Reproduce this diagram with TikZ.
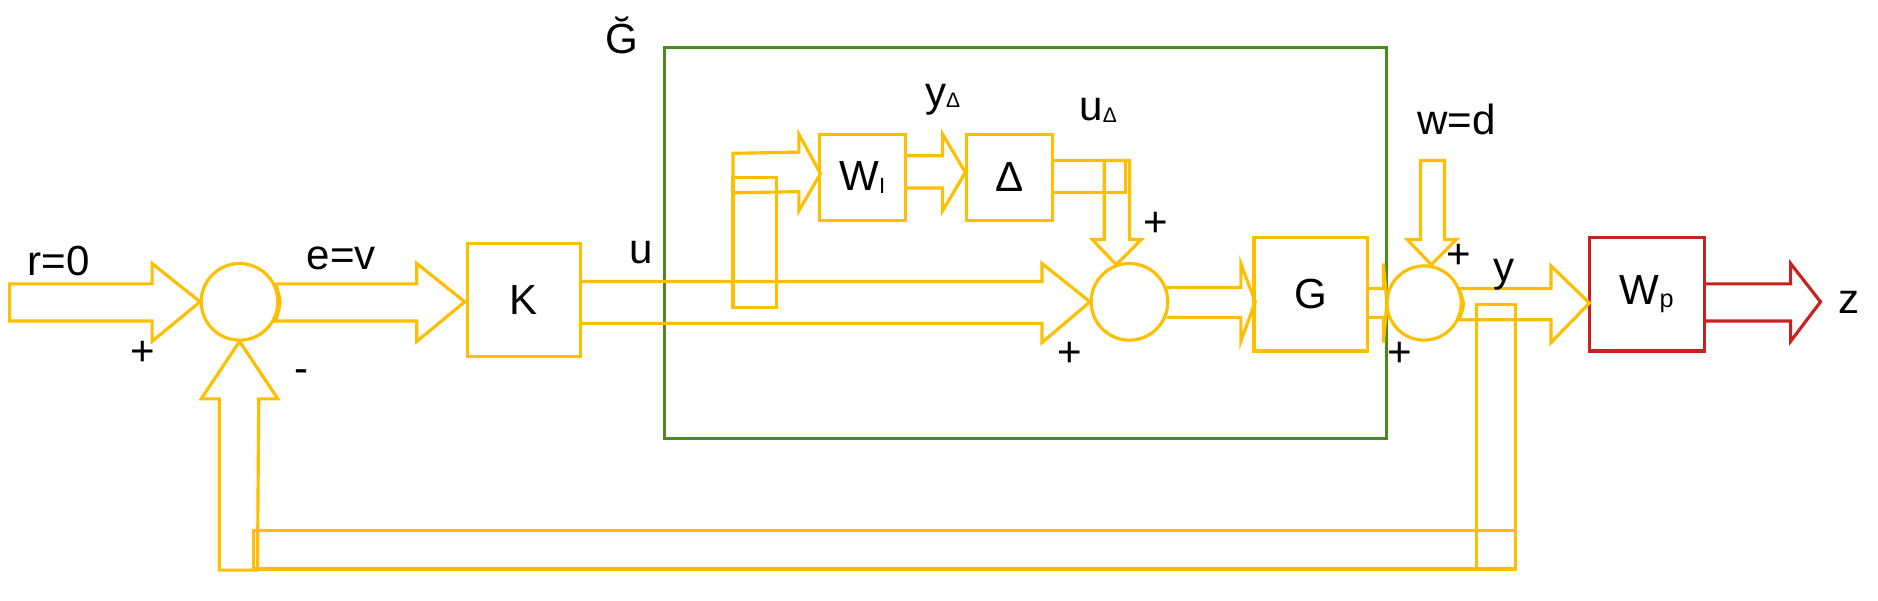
\documentclass[tikz,border=0pt]{standalone}
\usepackage{fontspec}
\setmainfont{Liberation Sans}
\usepackage{xcolor}
\definecolor{BlockGold}{RGB}{255, 191, 0}
\definecolor{FrameGreen}{RGB}{72, 140, 28}
\definecolor{WeightRed}{RGB}{201, 33, 30}
\usepackage{tikz}
\usetikzlibrary{positioning, calc}

\begin{document}
\begin{tikzpicture}[
        x=0.02cm, y=-0.02cm,
        font=\fontsize{20}{24}\selectfont,
        blk/.style={draw=BlockGold, line width=1.5pt, line join=miter},
        bigbox/.style={blk, minimum width=1.9cm, minimum height=1.9cm, inner sep=0pt},
        smallbox/.style={blk, minimum width=1.44cm, minimum height=1.44cm, inner sep=0pt},
        sumnode/.style={blk, circle, minimum size=1.28cm, inner sep=0pt},
        redblk/.style={draw=WeightRed, line width=1.5pt, line join=miter},
        frame/.style={draw=FrameGreen, line width=1.4pt, inner sep=0pt,
                    minimum width=12.06cm, minimum height=6.52cm},
        lbl/.style={inner sep=0pt, anchor=base},
        sgn/.style={inner sep=0pt}
    ]
        \useasboundingbox (0,0) rectangle (1568,501);

        % blocks
        \node[frame] (Gt) at (856.5,203) {};
        \node[bigbox] (K) at (437.5,250.5) {K};
        \node[smallbox] (WI) at (720,148) {W\raisebox{-1.6pt}{\fontsize{10.5}{11}\selectfont I}};
        \node[smallbox] (Dl) at (843,148) {Δ};
        \node[bigbox] (G) at (1094.5,245.5) {G};
        \node[redblk, minimum width=1.92cm, minimum height=1.9cm, inner sep=0pt] (Wp)
            at (1375,245.5) {W\raisebox{-1.6pt}{\fontsize{12}{12}\selectfont p}};
        \node[sumnode] (s1) at (200,252) {};
        \node[sumnode] (s2) at (943,252) {};
        \node[sumnode, minimum size=1.24cm] (s3) at (1189,253) {};

        % block arrows
        \draw[blk] (8,237) -- (127,237) -- (127,220) -- (167,252) -- (127,285) -- (127,268) -- (8,268) -- cycle;
        \draw[blk] (230,237) -- (348,237) -- (348,220) -- (388,252) -- (348,285) -- (348,268) -- (230,268)
            .. controls (235,252) .. (230,237);
        \draw[blk] (485,235) -- (870,235) -- (870,220) -- (910,252) -- (870,286) -- (870,270) -- (485,270);
        \draw[blk] (612,148) rectangle (648,257);
        \draw[blk] (612,128) -- (667,127) -- (667,112) -- (685,145) -- (667,176) -- (667,160) -- (612,161) -- cycle;
        \draw[blk] (756,130) -- (787,130) -- (787,112) -- (806,144) -- (787,176) -- (787,157) -- (756,157);
        \draw[blk] (879,134) rectangle (940,161);
        \draw[blk] (922,134) -- (922,200) -- (912,200) -- (932,221) -- (953,200) -- (943,200) -- (943,134) -- cycle;
        \draw[blk] (974,240) -- (1036,240) -- (1036,220) -- (1048,252) -- (1036,285) -- (1036,265) -- (974,265);
        \draw[blk] (1142,241) -- (1155,241) -- (1155,220) -- (1158,253) -- (1155,286) -- (1155,265) -- (1142,265);
        \draw[blk] (1186,134) -- (1186,200) -- (1175,200) -- (1195,221) -- (1216,200) -- (1206,200) -- (1206,134) -- cycle;
        \draw[blk] (1218,241) -- (1295,241) -- (1295,222) -- (1327,253) -- (1295,286) -- (1295,267) -- (1218,267)
            .. controls (1223,254) .. (1218,241);
        \draw[redblk] (1423,237) -- (1495,237) -- (1495,220) -- (1520,252) -- (1495,285) -- (1495,268) -- (1423,268);

        % feedback
        \draw[blk] (1233,254) rectangle (1265,475);
        \draw[blk] (212,443) rectangle (1265,475);
        \draw[blk] (183,476) -- (183,333) -- (168,333) -- (200,285) -- (232,333) -- (216,333) -- (215,476) -- cycle;

        % labels
        \node[lbl] (lG) at (519.5,44.5) {Ğ};
        \node[lbl] (lr) at (49,230) {r=0};
        \node[lbl] (le) at (285,225) {e=v};
        \node[lbl] (lu) at (535,220) {u};
        \node[lbl, anchor=base west] (lyd) at (772,89) {y\raisebox{-0.6pt}{\fontsize{10}{10}\selectfont Δ}};
        \node[lbl, anchor=base west] (lud) at (901,101) {u\raisebox{-0.6pt}{\fontsize{10}{10}\selectfont Δ}};
        \node[lbl] (lw) at (1216,112) {w=d};
        \node[lbl] (ly) at (1256,235) {y};
        \node[lbl] (lz) at (1544,262) {z};

        \node[sgn] (p1) at (119,295) {+};
        \node[sgn] (m1) at (252,314) {-};
        \node[sgn] (p2) at (965,187) {+};
        \node[sgn] (p3) at (893,296) {+};
        \node[sgn] (p4) at (1218,214) {+};
        \node[sgn] (p5) at (1169,296) {+};
    \end{tikzpicture}
\end{document}
